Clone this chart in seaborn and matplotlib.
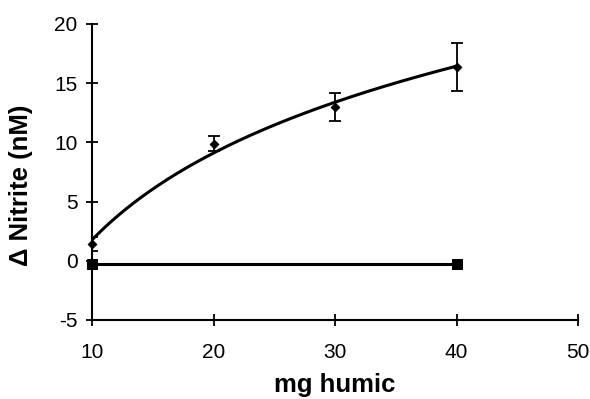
import numpy as np
import pandas as pd
import matplotlib
matplotlib.use("Agg")
import matplotlib.pyplot as plt
import seaborn as sns

# data
humic = [10, 20, 30, 40]
nitrite = [1.45, 9.9, 13.0, 16.35]
nitrite_err = [0.6, 0.65, 1.2, 2.0]
control_x = [10, 40]
control_y = [-0.25, -0.25]
x_ticks = [10, 20, 30, 40, 50]
y_ticks = [-5, 0, 5, 10, 15, 20]

sns.set_theme(style="white")
plt.rcParams['font.family'] = ['Liberation Sans', 'DejaVu Sans']
plt.rcParams['axes.unicode_minus'] = False
plt.rcParams['text.color'] = 'black'
plt.rcParams['axes.labelcolor'] = 'black'

fig = plt.figure(figsize=(5.9, 3.99), dpi=100)
ax = fig.add_axes([0.156, 0.198, 0.824, 0.742])

# logarithmic trendline fitted to the data
a, b = np.polyfit(np.log(humic), nitrite, 1)
xf = np.linspace(10, 40, 200)
fit_df = pd.DataFrame({"x": xf, "y": a * np.log(xf) + b})
sns.lineplot(data=fit_df, x="x", y="y", ax=ax, color="black", lw=2.2)

ctrl = pd.DataFrame({"x": control_x, "y": control_y})
sns.lineplot(data=ctrl, x="x", y="y", ax=ax, color="black", lw=2.2,
             marker="s", markersize=6.5, markeredgecolor="black", clip_on=False)

ax.errorbar(humic, nitrite, yerr=nitrite_err, fmt="none", ecolor="black",
            elinewidth=1.3, capsize=4.5, capthick=1.3)
pts = pd.DataFrame({"x": humic, "y": nitrite})
sns.scatterplot(data=pts, x="x", y="y", ax=ax, color="black", marker="D",
                s=22, edgecolor="black", zorder=5, clip_on=False)

ax.set_xlim(10, 50)
ax.set_ylim(-5, 20)
ax.set_xticks(x_ticks)
ax.set_yticks(y_ticks)
ax.tick_params(bottom=True, left=True, direction="inout", length=9, width=1.3,
               labelsize=15, colors="black", pad=6)
ax.tick_params(axis="x", pad=12)
for s in ["top", "right"]:
    ax.spines[s].set_visible(False)
for s in ["left", "bottom"]:
    ax.spines[s].set_color("black")
    ax.spines[s].set_linewidth(1.5)

ax.set_xlabel("mg humic", fontsize=18.5, fontweight="bold", labelpad=8)
ax.set_ylabel("Δ Nitrite (nM)", fontsize=18.5, fontweight="bold")
ax.yaxis.set_label_coords(-0.122, 0.455)
ax.grid(False)

fig.savefig("out.png", dpi=100)
